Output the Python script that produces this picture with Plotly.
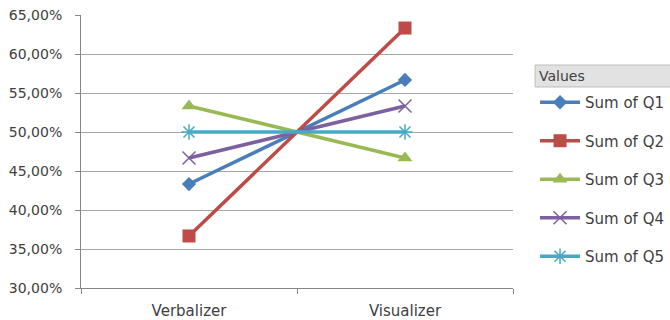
import plotly.graph_objects as go

categories = ["Verbalizer", "Visualizer"]
series_names = ["Sum of Q1", "Sum of Q2", "Sum of Q3", "Sum of Q4", "Sum of Q5"]
q1 = [0.4333, 0.5667]
q2 = [0.3667, 0.6333]
q3 = [0.5333, 0.4667]
q4 = [0.4667, 0.5333]
q5 = [0.5000, 0.5000]
values = [q1, q2, q3, q4, q5]

colors = ["#4A7EBB", "#BE4B48", "#98B954", "#7D60A0", "#46AAC5"]
symbols = ["diamond", "square", "triangle-up", "x-thin", "asterisk"]
sizes = [11, 13, 13, 13, 13]

fig = go.Figure()
for i, (name, vals) in enumerate(zip(series_names, values)):
    thin = symbols[i] in ("x-thin", "asterisk")
    fig.add_trace(go.Scatter(
        x=categories, y=vals, name=name, mode="lines+markers",
        legendgroup=name,
        line=dict(color=colors[i], width=3.5),
        marker=dict(symbol=symbols[i], size=sizes[i], color=colors[i],
                    line=dict(color=colors[i], width=1.5 if thin else 0)),
    ))

txt = "#404040"
fig.update_layout(
    template="none",
    width=670, height=320,
    margin=dict(l=81, r=157, t=15, b=32, autoexpand=False),
    paper_bgcolor="white", plot_bgcolor="white",
    separators=", ",
    font=dict(family="DejaVu Sans", size=14, color=txt),
    showlegend=True,
    legend=dict(
        x=1.051, xanchor="left", y=0.740, yanchor="top",
        font=dict(family="DejaVu Sans", size=15, color=txt),
        tracegroupgap=16, itemwidth=40,
        bgcolor="rgba(0,0,0,0)",
    ),
    xaxis=dict(
        type="category", range=[-0.5, 1.5], automargin=False,
        showline=True, linecolor="#868686", linewidth=1,
        ticks="outside", tickson="boundaries", ticklen=5, tickcolor="#868686",
        ticklabelstandoff=9,
        showgrid=False, tickfont=dict(size=15, color=txt),
    ),
    yaxis=dict(
        range=[0.30, 0.65], dtick=0.05, tickformat=".2%", automargin=False,
        showline=True, linecolor="#868686", linewidth=1,
        ticks="outside", ticklen=5, tickcolor="#868686",
        ticklabelstandoff=10,
        showgrid=True, gridcolor="#A6A6A6", gridwidth=1,
        zeroline=False, tickfont=dict(size=14, color=txt),
    ),
    shapes=[dict(
        type="path", xref="paper", yref="paper", layer="above",
        path="M 1.051,0.7363 L 1.365,0.7363 L 1.365,0.8168 L 1.051,0.8168 Z",
        fillcolor="#E2E2E2", line=dict(color="#BDBDBD", width=1),
    )],
    annotations=[dict(
        text="Values", xref="paper", yref="paper", x=1.056, y=0.7765,
        xanchor="left", yanchor="middle", showarrow=False,
        font=dict(family="DejaVu Sans", size=14, color=txt),
    )],
)

fig.write_html("out.html")
